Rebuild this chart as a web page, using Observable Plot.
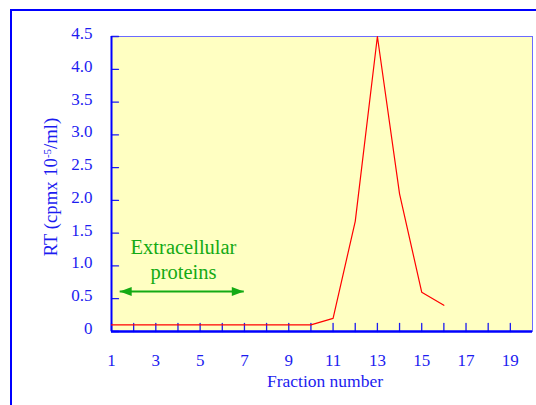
<!DOCTYPE html>
<html><head><meta charset="utf-8">
<script src="https://cdn.jsdelivr.net/npm/d3@7"></script>
<script src="https://cdn.jsdelivr.net/npm/@observablehq/plot@0.6"></script>
<style>
html,body{margin:0;padding:0;background:#fff;}
#wrap{position:relative;width:536px;height:405px;overflow:hidden;}
#wrap svg{position:absolute;left:0;top:0;}
#border{position:absolute;left:10px;top:9px;width:700px;height:700px;border-top:2px solid #0000ff;border-left:2px solid #0000ff;}
</style></head><body><div id="wrap"></div>
<script>
// data
const fractions = [1,2,3,4,5,6,7,8,9,10,11,12,13,14,15,16];
const rt = [0.1,0.1,0.1,0.1,0.1,0.1,0.1,0.1,0.1,0.1,0.2,1.68,4.5,2.1,0.6,0.4];
const yTicks = [0,0.5,1.0,1.5,2.0,2.5,3.0,3.5,4.0,4.5];
const xTicks = [1,2,3,4,5,6,7,8,9,10,11,12,13,14,15,16,17,18,19];
const xLabels = [1,3,5,7,9,11,13,15,17,19];
const noteLines = ["Extracellular", "proteins"];
const noteX = 4.25;
const noteY = [1.285, 0.90];
const arrowX = [1.37, 6.97];
const arrowY = 0.61;
const xTitle = "Fraction number";
const yTitle = "RT (cpmx 10-5/ml)";

const series = fractions.map((f, i) => ({f, v: rt[i]}));
const notes = noteLines.map((t, i) => ({t, x: noteX, y: noteY[i]}));
const heads = [{x: arrowX[0], y: arrowY, r: 180}, {x: arrowX[1], y: arrowY, r: 0}];

const blue = "#1c1cf0";
const green = "#14aa14";
const font = "'Liberation Serif','Times New Roman',serif";

const headSymbol = {
  draw(ctx) { ctx.moveTo(0, 0); ctx.lineTo(-12, -4.5); ctx.lineTo(-12, 4.5); ctx.closePath(); }
};
const tickShape = {
  draw(ctx, l) { ctx.moveTo(0, 0); ctx.lineTo(0, -l); }
};

const chart = Plot.plot({
  width: 536, height: 405,
  marginLeft: 111, marginRight: 4, marginTop: 36, marginBottom: 74,
  style: {fontFamily: font, fontSize: "16px", background: "transparent"},
  x: {domain: [1, 20]},
  y: {domain: [0, 4.5]},
  marks: [
    Plot.frame({fill: "#ffffc2", stroke: "#6b6bff", strokeWidth: 1}),
    // inner tick marks
    Plot.vector(yTicks, {x: () => 1, y: d => d, length: 7, rotate: 90, anchor: "start", shape: tickShape, stroke: blue, strokeWidth: 1.3}),
    Plot.vector(xTicks, {x: d => d, y: () => 0, length: 8, rotate: 0, anchor: "start", shape: tickShape, stroke: blue, strokeWidth: 1.3}),
    // tick labels
    Plot.axisY({ticks: yTicks, tickSize: 0, tickPadding: 19, dy: -3, color: blue, fontSize: 17,
      tickFormat: d => d === 0 ? "0" : d.toFixed(1), label: null}),
    Plot.axisX({ticks: xLabels, tickSize: 0, tickPadding: 22, color: blue, fontSize: 17,
      tickFormat: d => String(d), label: null}),
    Plot.ruleX([1], {stroke: "#0000ff", strokeWidth: 2}),
    Plot.ruleY([0], {stroke: "#0000ff", strokeWidth: 2.5}),
    Plot.line(series, {x: "f", y: "v", stroke: "#ff0000", strokeWidth: 1.2}),
    Plot.link([{}], {x1: () => arrowX[0], x2: () => arrowX[1], y1: () => arrowY, y2: () => arrowY, stroke: green, strokeWidth: 2}),
    Plot.dot(heads, {x: "x", y: "y", rotate: "r", symbol: headSymbol, fill: green, stroke: null, r: 5}),
    Plot.text(notes, {x: "x", y: "y", text: "t", fill: green, fontSize: 20.5}),
    Plot.text([xTitle], {frameAnchor: "bottom", lineAnchor: "middle", textAnchor: "middle", dy: 50, dx: 3, fill: blue, fontSize: 17.5}),
    Plot.text([yTitle], {frameAnchor: "left", lineAnchor: "middle", textAnchor: "middle", rotate: -90, dx: -60, dy: 3, fill: blue, fontSize: 18.7})
  ]
});

document.getElementById("wrap").appendChild(chart);
const b = document.createElement("div"); b.id = "border";
document.getElementById("wrap").appendChild(b);

// superscript in the y title
d3.select(chart).selectAll("text").each(function() {
  if (this.textContent === yTitle) {
    const t = d3.select(this);
    t.text(null);
    t.append("tspan").text("RT (cpmx 10");
    t.append("tspan").attr("baseline-shift", "super").attr("font-size", "11px").text("-5");
    t.append("tspan").text("/ml)");
  }
});
</script></body></html>
